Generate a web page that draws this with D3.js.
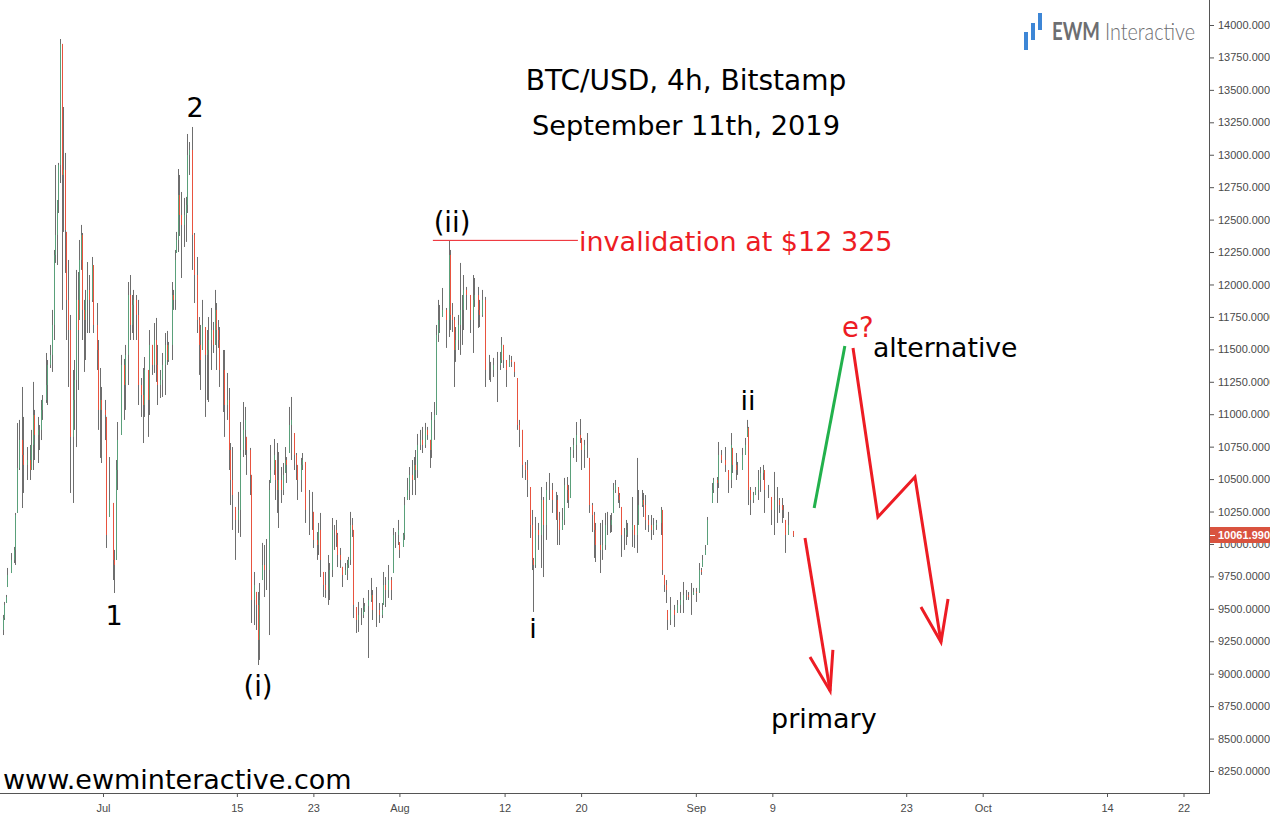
<!DOCTYPE html>
<html>
<head>
<meta charset="utf-8">
<script src="https://cdn.jsdelivr.net/npm/d3@7"></script>
<style>
  html, body { margin: 0; padding: 0; background: #fff; overflow: hidden; }
  .axis text { font-family: "Liberation Sans", sans-serif; font-size: 11px; fill: #4a4a4a; }
  .axis line { stroke: #555; }
  .note { font-family: "DejaVu Sans", sans-serif; fill: #000; }
</style>
</head>
<body>
<div id="chart"></div>
<script>
// 4h bars. barIndex counts 4h steps from the first bar.
var firstBar = "2019-06-20T04:00Z";
var barIndex = [
  0,2,3,4,5,7,9,10,11,12, 14,15,17,19,20,21,22,24,25,26, 27,29,30,32,33,34,35,36,37,38,
  39,40,41,42,43,44,46,47,48,49, 50,51,52,53,54,55,56,58,59,61, 62,63,64,66,67,69,71,72,73,74,
  76,78,79,81,82,83,84,86,87,89, 90,91,93,94,96,97,98,99,101,102, 104,105,106,108,109,110,111,112,113,114,
  116,117,118,119,121,122,124,125,126,127, 129,130,131,133,134,135,136,137,138,140, 141,143,144,145,146,148,150,151,153,154,
  155,157,158,160,161,162,163,165,166,167, 169,170,172,173,174,175,177,178,179,180, 182,183,185,186,187,189,190,192,194,196,
  197,199,200,201,203,204,206,207,209,210, 211,212,214,215,217,218,219,220,221,222, 224,225,227,228,229,231,233,234,236,238,
  240,241,242,244,246,247,248,250,251,253, 254,256,257,259,260,261,262,264,265,267, 268,270,271,273,274,275,276,278,280,282,
  283,284,285,286,288,289,290,291,293,295, 297,298,300,301,303,305,307,308,310,312, 314,315,316,318,320,321,323,325,326,328,
  330,331,333,334,335,336,338,340,341,343, 345,347,349,350,351,353,354,356,357,358, 360,362,364,365,367,369,370,372,373,374,
  377,378,380,381,383,384,385,386,388,389, 390,392,393,394,397,398,400,401,403,404, 405,407,409,410,412,415,416,417,418,419,
  421,423,425,427,429,431,432,434,435,437, 439,440,441,443,444,447,448,450,451,453, 455,457,459,460,462,463,466,468,469,470,
  471,473,474,476,477,479,480,482,484,486, 488,489,491,492,493,495,498
];
var highs = [
  9414,9453,9553,9607,9815,9930,9977,10239,10932,10956,
  11210,10979,10747,10763,10879,11249,11033,10979,10917,11110,
  11148,11472,11418,11534,11804,12266,12921,12651,12937,13892,
  13854,13368,13014,12405,12189,11765,11341,11418,12112,12096,
  12343,12459,12397,11881,11958,12173,12073,12212,12150,11857,
  11572,11356,11210,11110,10979,10670,10316,9954,10647,10940,
  11457,11426,11534,12019,12073,11919,11958,11919,11881,11279,
  11356,11441,11341,11649,11534,11703,11742,11534,11341,11472,
  11626,11642,11557,12019,11958,12266,12405,12890,12844,12713,
  12667,12675,13160,13098,13214,12397,12212,11749,11688,11881,
  11672,11649,11749,11819,11711,11958,11857,11726,11672,11495,
  11495,11318,11202,10778,10747,10285,10401,10940,11094,11056,
  10825,10740,10532,9784,9630,9630,9699,10008,9992,10038,
  10493,10763,10809,10647,10778,10709,10593,10624,10747,10670,
  11056,11133,10855,10701,10609,10663,10701,10632,10416,10401,
  10247,10092,10162,10239,9784,9784,9915,9853,10200,10146,
  10185,10085,9969,9823,9853,9877,9900,10247,10200,10108,
  9514,9553,9506,9584,9545,9645,9738,9645,9668,9545,
  9545,9784,9745,9838,9745,10123,10092,10185,10015,10085,
  10362,10509,10593,10647,10670,10724,10848,10879,10902,10933,
  10902,10802,11017,11094,11688,11881,11842,11973,11819,12335,
  12266,11857,11750,11672,11765,12166,11919,12073,11981,11919,
  12073,12050,11981,11881,11958,11904,11457,11403,11434,11480,
  11480,11595,11534,11418,11457,11449,11403,11279,10956,10879,
  10632,10647,10439,10262,9892,10208,10162,10439,10362,10478,
  10547,10470,10401,10377,10247,10277,10509,10516,10455,10747,
  10817,10940,10963,10817,10802,10855,10663,10316,10247,10162,
  10162,10185,10239,10247,10223,10239,10470,10493,10439,10393,
  10285,10123,10185,10162,10362,10146,10663,10416,10416,10393,
  10377,10223,10223,10200,10185,10285,10262,9761,9722,9491,
  9591,9530,9568,9630,9707,9645,9630,9699,9661,9661,
  9853,9815,9915,9992,10208,10470,10509,10516,10786,10724,
  10747,10570,10855,10740,10701,10632,10740,10817,10956,10902,
  10439,10401,10439,10570,10593,10609,10570,10455,10362,10555,
  10439,10354,10354,10300,10185,10247,10100
];
var lows = [
  9221,9298,9414,9545,9668,9776,9853,9838,10239,10570,
  10277,10393,10493,10493,10570,10570,10647,10624,10724,10801,
  10956,11087,11071,11356,11326,11572,12166,12150,12551,12782,
  11804,12405,12089,11572,11210,10393,10316,10879,10747,11187,
  11726,12112,11572,11326,11418,11626,11626,11865,11626,11341,
  10879,10663,10624,10801,9969,10208,9722,9622,9877,10416,
  10840,10956,11033,11225,11572,11626,11572,11572,11071,10979,
  10778,10979,10825,10994,11303,11318,11249,11071,11125,11133,
  11148,11380,11403,11418,11804,11804,12243,12250,12374,12050,
  12289,12328,12551,12844,12112,11857,11626,11303,11187,11495,
  10979,11110,11094,11341,11472,11534,11341,11511,11210,11017,
  10825,10956,10570,10300,10108,9877,10085,10054,10670,10686,
  10532,10377,9391,9375,9337,9067,9106,9722,9591,9645,
  9298,10470,10532,10339,10239,10123,10316,10377,10547,10470,
  10701,10647,10570,10493,10339,10401,10570,10162,10069,10108,
  9969,9877,9915,9745,9591,9584,9530,9568,9745,9954,
  9977,9822,9815,9668,9761,9722,9815,9838,10054,9429,
  9314,9322,9375,9429,9476,9121,9553,9414,9360,9391,
  9429,9530,9514,9584,9568,9776,9969,9992,9892,9977,
  10031,10339,10339,10377,10493,10377,10509,10724,10701,10740,
  10802,10586,10663,10802,10994,11557,11626,11750,11511,11595,
  11649,11634,11210,11403,11495,11457,11534,11649,11804,11626,
  11472,11827,11665,11672,11750,11210,11264,11249,11287,11094,
  11341,11395,11356,11210,11364,11364,11287,10879,10747,10509,
  10493,10362,10046,9799,9476,9815,9954,9815,9745,10031,
  10339,10239,10185,9992,9992,10108,10146,10316,10277,10354,
  10663,10632,10778,10570,10586,10663,10239,10092,9892,9861,
  9776,9877,9954,10069,10085,10092,10239,10393,10316,10277,
  9900,9954,9992,10054,9977,9969,9931,10146,10285,10208,
  10108,10092,10031,10069,10108,10069,9761,9630,9545,9337,
  9375,9360,9468,9468,9468,9568,9568,9453,9607,9553,
  9622,9761,9823,9915,9992,10316,10393,10316,10431,10624,
  10555,10393,10431,10547,10493,10532,10570,10686,10825,10300,
  10223,10316,10377,10339,10401,10493,10239,10354,10146,10069,
  10162,10239,10162,10200,9931,10069,10054
];
var closes = [
  9337,9429,9530,9591,9761,9877,9954,10223,10586,10802,
  10686,10609,10647,10570,10763,10994,10840,10879,10879,11033,
  11110,11225,11380,11457,11688,12227,12382,12651,12921,13854,
  12844,12883,12420,11881,11649,10825,11110,11264,11881,11649,
  12189,12382,11804,11726,11881,11958,11881,12150,11688,11495,
  11033,11110,11033,10994,10069,10339,9877,9838,10570,10802,
  11380,11225,11457,11919,11688,11842,11881,11765,11225,11148,
  11071,11341,11110,11534,11380,11572,11380,11225,11264,11380,
  11534,11418,11534,11919,11881,12189,12343,12690,12536,12459,
  12536,12613,12998,13037,12382,12073,11726,11534,11418,11688,
  11457,11495,11572,11649,11534,11804,11649,11572,11341,11341,
  11071,11110,10724,10493,10377,10185,10262,10724,10879,10956,
  10724,10532,9568,9684,9530,9260,9568,9838,9799,9799,
  10416,10570,10686,10493,10416,10493,10416,10532,10647,10609,
  10917,10956,10686,10609,10493,10609,10647,10262,10262,10262,
  10031,9992,10108,9877,9684,9645,9645,9799,10108,10108,
  10069,9915,9877,9761,9799,9838,9877,10146,10108,9530,
  9414,9453,9453,9491,9522,9568,9607,9491,9491,9453,
  9491,9684,9645,9722,9645,10069,10069,10108,9954,10069,
  10300,10416,10532,10493,10609,10570,10763,10802,10763,10879,
  10840,10724,10956,10994,11611,11726,11726,11804,11726,12227,
  11765,11726,11495,11572,11688,11804,11804,11958,11919,11726,
  11881,11919,11804,11765,11881,11341,11341,11341,11380,11380,
  11418,11534,11418,11341,11418,11403,11326,10917,10879,10609,
  10570,10493,10146,9877,9838,10108,10069,10339,10146,10416,
  10416,10339,10339,10185,10108,10185,10455,10416,10339,10724,
  10763,10840,10802,10724,10763,10763,10300,10223,10108,9992,
  9954,9992,10146,10146,10146,10185,10416,10455,10377,10339,
  10069,10069,10108,10108,10146,10069,10146,10300,10339,10300,
  10185,10146,10108,10146,10162,10262,9799,9684,9645,9414,
  9491,9453,9530,9568,9607,9607,9591,9591,9630,9622,
  9799,9784,9877,9954,10185,10416,10493,10470,10686,10647,
  10609,10493,10763,10609,10570,10570,10686,10763,10894,10416,
  10339,10377,10416,10493,10547,10570,10416,10416,10262,10339,
  10339,10300,10262,10262,10069,10146,10061.99
];

var lastPrice = 10061.99;
var priceTicks = d3.range(8250, 14001, 250);
var dateTicks = ["2019-07-01","2019-07-15","2019-07-23","2019-08-01","2019-08-12","2019-08-20","2019-09-01","2019-09-09","2019-09-23","2019-10-01","2019-10-14","2019-10-22"];
var dateTickLabels = ["Jul","15","23","Aug","12","20","Sep","9","23","Oct","14","22"];

// hand drawn scenario lines, [time, price]
var greenPath = [["2019-09-13T09:00Z",10277],["2019-09-16T14:00Z",11526]];
var primaryPath = [["2019-09-12T10:00Z",10046],["2019-09-15T01:00Z",8867]];
var primaryHead = [["2019-09-12T22:30Z",9129],["2019-09-15T01:00Z",8867],["2019-09-15T08:00Z",9183]];
var altPath = [["2019-09-17T10:30Z",11510],["2019-09-20T01:00Z",10208],["2019-09-23T22:00Z",10516],["2019-09-26T15:20Z",9244]];
var altHead = [["2019-09-24T13:00Z",9514],["2019-09-26T15:20Z",9244],["2019-09-27T09:00Z",9576]];
var invalidLine = [["2019-08-04T12:00Z",12340],["2019-08-19T16:00Z",12340]];

var svgW = 1270;
var svgH = 816;
var axisX = 1209;
var axisY = 793;
var red = "#ed1c24";

var svg = d3.select("#chart").append("svg")
  .attr("width", svgW)
  .attr("height", svgH)
  .style("display", "block");

var xScale = d3.scaleUtc()
  .domain([new Date("2019-07-01"), new Date("2019-10-22")])
  .range([103, 1183.5]);
var yScale = d3.scaleLinear()
  .domain([8250, 14000])
  .range([771, 25]);

// bars: grey high-low first, coloured open-close on top
var bars = barIndex.map(function (n, i) {
  var open = i == 0 ? closes[0] : closes[i - 1];
  return {
    x: Math.round(xScale(d3.timeHour.offset(new Date(firstBar), n * 4))) + 0.5,
    high: highs[i],
    low: lows[i],
    open: Math.max(lows[i], Math.min(highs[i], open)),
    close: closes[i]
  };
});

svg.append("g").selectAll("line")
  .data(bars)
  .enter().append("line")
  .attr("x1", d => d.x).attr("x2", d => d.x)
  .attr("y1", d => yScale(d.high)).attr("y2", d => yScale(d.low))
  .attr("stroke", "#6e6e6e");

svg.append("g").selectAll("line")
  .data(bars)
  .enter().append("line")
  .attr("x1", d => d.x).attr("x2", d => d.x)
  .attr("y1", d => yScale(d.open)).attr("y2", d => yScale(d.close))
  .attr("stroke", d => d.close >= d.open ? "#5aa07a" : "#e8533f");

// axes
var rightAxis = d3.axisRight(yScale)
  .tickValues(priceTicks)
  .tickFormat(d => d.toFixed(4))
  .tickSize(5)
  .tickPadding(4);
var bottomAxis = d3.axisBottom(xScale)
  .tickValues(dateTicks.map(d => new Date(d)))
  .tickFormat((d, i) => dateTickLabels[i])
  .tickSize(4)
  .tickPadding(7);

var rightG = svg.append("g").attr("class", "axis")
  .attr("transform", `translate(${axisX}, 0)`)
  .call(rightAxis);
rightG.select(".domain").remove();
var bottomG = svg.append("g").attr("class", "axis")
  .attr("transform", `translate(0, ${axisY})`)
  .call(bottomAxis);
bottomG.select(".domain").remove();

svg.append("line")
  .attr("x1", axisX + 0.5).attr("x2", axisX + 0.5)
  .attr("y1", 0).attr("y2", axisY + 1)
  .attr("stroke", "#555");
svg.append("line")
  .attr("x1", 0).attr("x2", axisX + 1)
  .attr("y1", axisY + 0.5).attr("y2", axisY + 0.5)
  .attr("stroke", "#555");

// last price tag
svg.append("rect")
  .attr("x", axisX + 1)
  .attr("y", Math.round(yScale(lastPrice)) - 9)
  .attr("width", svgW - axisX)
  .attr("height", 16)
  .attr("fill", "#d9533f");
svg.append("line")
  .attr("x1", axisX + 1).attr("x2", axisX + 6)
  .attr("y1", Math.round(yScale(lastPrice)) - 0.5).attr("y2", Math.round(yScale(lastPrice)) - 0.5)
  .attr("stroke", "#fff");
svg.append("text")
  .attr("x", axisX + 9)
  .attr("y", Math.round(yScale(lastPrice)) + 3)
  .attr("font-family", "Liberation Sans, sans-serif")
  .attr("font-size", "11px")
  .attr("font-weight", "bold")
  .attr("fill", "#fff")
  .text(lastPrice.toFixed(4));

// scenario lines
var line = d3.line()
  .x(d => xScale(new Date(d[0])))
  .y(d => yScale(d[1]));

function drawPath(points, color, width) {
  svg.append("path")
    .attr("d", line(points))
    .attr("fill", "none")
    .attr("stroke", color)
    .attr("stroke-width", width)
    .attr("stroke-linejoin", "miter");
}
drawPath(invalidLine, red, 1);
drawPath(greenPath, "#22b14c", 3);
drawPath(primaryPath, red, 3);
drawPath(primaryHead, red, 3);
drawPath(altPath, red, 3);
drawPath(altHead, red, 3);

// text labels
function note(txt, x, y, size, anchor, color) {
  svg.append("text")
    .attr("class", "note")
    .attr("x", x)
    .attr("y", y)
    .attr("font-size", size + "px")
    .attr("text-anchor", anchor)
    .style("fill", color || "#000")
    .text(txt);
}
note("BTC/USD, 4h, Bitstamp", 686, 90, 28, "middle");
note("September 11th, 2019", 686, 135, 27.2, "middle");
note("2", 195, 117, 27, "middle");
note("1", 114, 625, 27, "middle");
note("(i)", 258, 696, 27.5, "middle");
note("(ii)", 452, 232, 27.5, "middle");
note("ii", 748, 410, 27, "middle");
note("i", 533, 638, 27, "middle");
note("invalidation at $12 325", 579, 251, 27, "start", red);
note("e?", 842, 337, 27.5, "start", red);
note("alternative", 873, 357, 26.7, "start");
note("primary", 771, 728, 27, "start");
note("www.ewminteractive.com", 3, 789, 27, "start");

// logo
svg.selectAll(".logoBar")
  .data([[1024,32,18],[1031,23,17],[1038,13,17]])
  .enter().append("rect")
  .attr("class", "logoBar")
  .attr("x", d => d[0]).attr("y", d => d[1])
  .attr("width", 4).attr("height", d => d[2])
  .attr("fill", "#3d86d6");
svg.append("text")
  .attr("x", 1052).attr("y", 40)
  .attr("font-family", "Lato, sans-serif")
  .attr("font-size", "24px")
  .attr("font-weight", "bold")
  .attr("fill", "#6d6e71")
  .attr("textLength", 48)
  .attr("lengthAdjust", "spacingAndGlyphs")
  .text("EWM");
svg.append("text")
  .attr("x", 1105).attr("y", 40)
  .attr("font-family", "Lato, sans-serif")
  .attr("font-size", "24px")
  .attr("font-weight", "300")
  .attr("fill", "#6d6e71")
  .attr("textLength", 90)
  .attr("lengthAdjust", "spacingAndGlyphs")
  .text("Interactive");
</script>
</body>
</html>
